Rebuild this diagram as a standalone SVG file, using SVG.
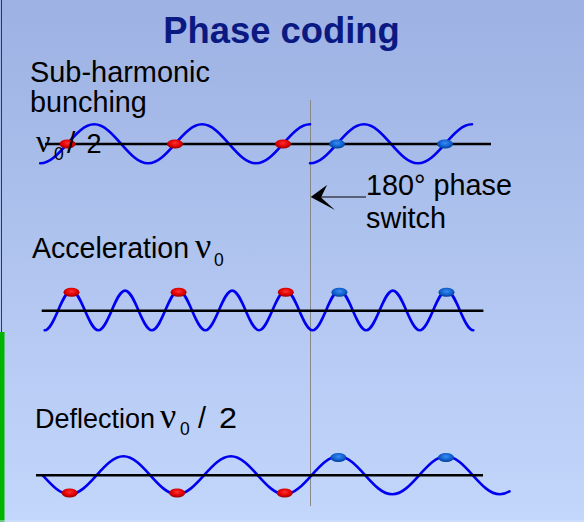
<svg xmlns="http://www.w3.org/2000/svg" width="584" height="522" viewBox="0 0 584 522">
<defs>
<linearGradient id="bg" x1="0" y1="0" x2="0" y2="1">
<stop offset="0" stop-color="#9db1e3"/>
<stop offset="1" stop-color="#c3d7fc"/>
</linearGradient>
<radialGradient id="red" cx="0.5" cy="0.4" r="0.6">
<stop offset="0" stop-color="#ff3030"/>
<stop offset="0.6" stop-color="#e00000"/>
<stop offset="1" stop-color="#900000"/>
</radialGradient>
<radialGradient id="blue" cx="0.5" cy="0.4" r="0.6">
<stop offset="0" stop-color="#3a8cf0"/>
<stop offset="0.6" stop-color="#1060d0"/>
<stop offset="1" stop-color="#003a90"/>
</radialGradient>
<style>
.t{font-family:"Liberation Sans",Arial,sans-serif;font-size:28.8px;fill:#000}
.nu{font-family:"Liberation Serif","Times New Roman",serif;font-size:36px}
.sub{font-size:17.5px}
.wave{fill:none;stroke:#0000f0;stroke-width:2.6;stroke-linecap:round}
.axis{stroke:#000;stroke-width:2.4}
.r{fill:url(#red)}
.b{fill:url(#blue)}
</style>
</defs>
<rect width="584" height="522" fill="url(#bg)"/>
<line x1="1.5" y1="0" x2="1.5" y2="332" stroke="#2030a0" stroke-width="1"/>
<rect x="0" y="332" width="4.5" height="190" fill="#00b400"/>
<line x1="0" y1="521" x2="584" y2="521" stroke="#d4e2ff" stroke-width="1"/>

<g id="title">
<text x="281.5" y="43" text-anchor="middle" style="font-family:'Liberation Sans',Arial,sans-serif;font-size:36.4px;font-weight:bold;fill:#0a1a82">Phase coding</text>
</g>

<g id="connectors">
<line x1="310.5" y1="100" x2="310.5" y2="506" stroke="#888" stroke-width="1"/>
<line x1="366" y1="197" x2="318" y2="197" stroke="#000" stroke-width="1"/>
<path d="M310.7,197 L327,185 L321,197.5 L335,210 Z" fill="#000"/>
</g>

<g id="subharmonic">
<path class="wave" d="M40.2,163.3 C59.8,163.3 74.6,124.3 94.2,124.3 S128.5,163.3 148.1,163.3 S182.5,124.3 202.1,124.3 S236.4,163.3 256,163.3 S290.4,124.3 310,124.3"/>
<path class="wave" d="M310,163.3 C329.7,163.3 344.3,124.3 364,124.3 S398.3,163.3 418,163.3 S452.3,124.3 472,124.3"/>
<line class="axis" x1="45" y1="144" x2="491" y2="144"/>
<ellipse class="r" cx="67.5" cy="144" rx="8" ry="4.5"/>
<ellipse class="r" cx="175" cy="144" rx="8" ry="4.5"/>
<ellipse class="r" cx="283" cy="144" rx="8" ry="4.5"/>
<ellipse class="b" cx="337" cy="144" rx="8" ry="4.5"/>
<ellipse class="b" cx="445" cy="144" rx="8" ry="4.5"/>
<text class="t" x="30" y="82" textLength="180" lengthAdjust="spacingAndGlyphs">Sub-harmonic</text>
<text class="t" x="30" y="112">bunching</text>
<text class="t" style="font-size:27px"><tspan class="nu" x="36" y="152" style="font-size:32px">ν</tspan><tspan class="sub" x="54" y="160">0</tspan><tspan x="67" y="153" style="font-size:30px">/</tspan><tspan x="86.5" y="153">2</tspan></text>
</g>

<g id="phase-switch">
<text class="t" x="366" y="195">180° phase</text>
<text class="t" x="366" y="228">switch</text>
</g>

<g id="acceleration">
<path class="wave" d="M44.7,330.2 C54.4,330.2 61.8,290.6 71.5,290.6 S88.5,330.2 98.3,330.2 S115.3,290.6 125.1,290.6 S142.1,330.2 151.9,330.2 S168.9,290.6 178.6,290.6 S195.7,330.2 205.4,330.2 S222.5,290.6 232.2,290.6 S249.3,330.2 259,330.2 S276,290.6 285.8,290.6 S302.8,330.2 312.6,330.2 S329.6,290.6 339.4,290.6 S356.4,330.2 366.2,330.2 S383.2,290.6 392.9,290.6 S410,330.2 419.7,330.2 S436.8,290.6 446.5,290.6 S463.6,330.2 473.3,330.2"/>
<line class="axis" x1="41.7" y1="310.7" x2="483.4" y2="310.7"/>
<ellipse class="r" cx="71.5" cy="292.3" rx="8" ry="4.5"/>
<ellipse class="r" cx="178.6" cy="292.3" rx="8" ry="4.5"/>
<ellipse class="r" cx="285.8" cy="292.3" rx="8" ry="4.5"/>
<ellipse class="b" cx="339.4" cy="292.3" rx="8" ry="4.5"/>
<ellipse class="b" cx="446.5" cy="292.3" rx="8" ry="4.5"/>
<text class="t"><tspan x="32" y="258" textLength="157" lengthAdjust="spacingAndGlyphs">Acceleration</tspan><tspan class="nu" x="195" y="258">ν</tspan><tspan class="sub" x="214" y="266">0</tspan></text>
</g>

<g id="deflection">
<path class="wave" d="M42.7,475.3 C51.5,485 59.9,494.3 69.6,494.3 C89.2,494.3 103.8,456.3 123.4,456.3 S157.6,494.3 177.1,494.3 S211.3,456.3 230.9,456.3 S265.1,494.3 284.7,494.3 S318.8,456.3 338.4,456.3 S372.6,494.3 392.2,494.3 S426.4,456.3 446,456.3 S480.2,494.3 499.8,494.3 C503,494.3 506.5,493 509.5,491.3"/>
<line class="axis" x1="36" y1="475.3" x2="483" y2="475.3"/>
<ellipse class="r" cx="69.6" cy="493" rx="8" ry="4.5"/>
<ellipse class="r" cx="177.1" cy="493" rx="8" ry="4.5"/>
<ellipse class="r" cx="284.7" cy="493" rx="8" ry="4.5"/>
<ellipse class="b" cx="338.4" cy="457.5" rx="8" ry="4.5"/>
<ellipse class="b" cx="446" cy="457.5" rx="8" ry="4.5"/>
<text class="t"><tspan x="35" y="428" style="font-size:27px">Deflection</tspan><tspan class="nu" x="160" y="428">ν</tspan><tspan class="sub" x="180" y="435">0</tspan><tspan x="198" y="428">/</tspan><tspan x="219" y="428" textLength="18" lengthAdjust="spacingAndGlyphs">2</tspan></text>
</g>
</svg>
